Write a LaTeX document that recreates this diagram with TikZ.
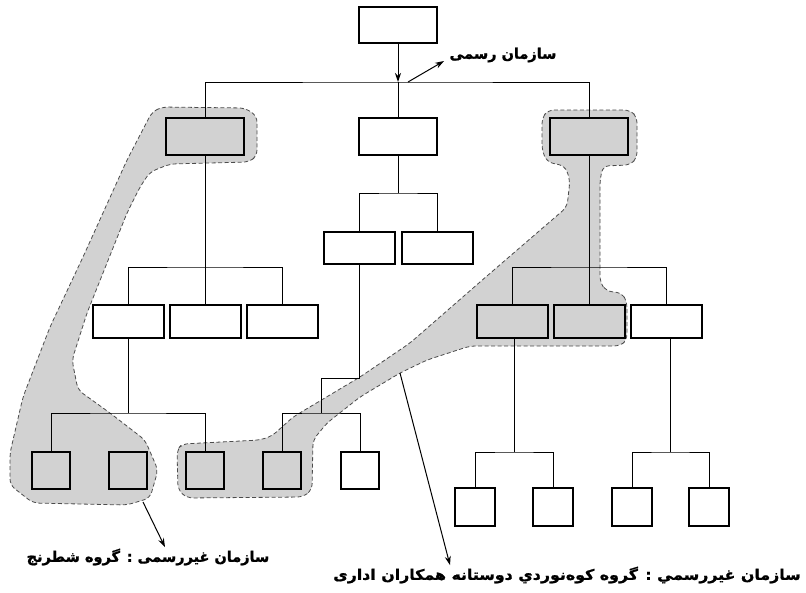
\documentclass[tikz,border=0pt]{standalone}
\usepackage{fontspec}
\newfontfamily\farsi[Script=Arabic,BoldFeatures={FakeBold=1.2}]{DejaVu Sans}
\TeXXeTstate=1
\usetikzlibrary{arrows.meta}
\begin{document}
\begin{tikzpicture}[x=1pt,y=-1pt,line width=1pt,>={Stealth[length=9pt,width=6pt]},
  post/.style={draw,line width=2pt,minimum width=78pt,minimum height=37pt,inner sep=0pt},
  subpost/.style={post,minimum width=71pt,minimum height=33pt},
  seat/.style={post,minimum width=38pt,minimum height=37pt},
  group/.style={fill=gray!35,draw=black!70,dash pattern=on 4pt off 2.5pt,line width=0.8pt,rounded corners=6pt},
  lbl/.style={font=\farsi\bfseries\fontsize{14.5}{17}\selectfont,inner sep=1pt}]
\useasboundingbox (0,0) rectangle (806,592);
% informal groups
\draw[group] (152,112)--(162,107)--(245,108)--(257,116)--(257,156)--(249,162)--(170,164)--(150,172)--(140,187)--(127,213)--(87,313)--(72,360)--(78,390)--(110,413)--(145,440)--(158,470)--(150,498)--(127,505)--(33,503)--(10,485)--(10,453)--(23,397)--(50,327)--(83,257)--(127,160)--cycle;
\draw[group] (542,118)--(548,110)--(630,110)--(637,117)--(637,158)--(630,165)--(603,166)--(600,180)--(600,282)--(606,291)--(622,293)--(627,302)--(627,340)--(620,346)--(470,346)--(427,360)--(400,373)--(360,397)--(327,423)--(313,440)--(312,490)--(303,497)--(187,498)--(178,490)--(177,450)--(182,444)--(260,440)--(272,436)--(293,417)--(360,377)--(410,343)--(480,282)--(567,207)--(570,180)--(565,166)--(547,162)--(542,150)--cycle;
% formal chart
\node[post,minimum height=36pt] (top) at (398,25) {};
\node[post] (chief1) at (205,136) {};
\node[post] (chief2) at (398,136) {};
\node[post] (chief3) at (589,136) {};
\node[subpost,minimum height=32pt] (m1) at (359,248) {};
\node[subpost,minimum height=32pt] (m2) at (437,248) {};
\node[subpost] (a1) at (128,321) {};
\node[subpost] (a2) at (205,321) {};
\node[subpost] (a3) at (282,321) {};
\node[subpost] (c1) at (512,321) {};
\node[subpost] (c2) at (589,321) {};
\node[subpost] (c3) at (666,321) {};
\node[seat] (s1) at (51,470) {};
\node[seat] (s2) at (128,470) {};
\node[seat] (s3) at (205,470) {};
\node[seat] (s4) at (282,470) {};
\node[seat] (s5) at (360,470) {};
\node[seat,minimum width=40pt,minimum height=38pt] (t1) at (475,507) {};
\node[seat,minimum width=40pt,minimum height=38pt] (t2) at (553,507) {};
\node[seat,minimum width=40pt,minimum height=38pt] (t3) at (632,507) {};
\node[seat,minimum width=40pt,minimum height=38pt] (t4) at (709,507) {};
\coordinate (j0) at (398,82);
\coordinate (j1) at (398,193);
\coordinate (j2) at (205,267);
\coordinate (j3) at (589,267);
\coordinate (j4) at (128,413);
\coordinate (j5) at (321,378);
\coordinate (j6) at (321,413);
\coordinate (j7) at (514,452);
\coordinate (j8) at (670,452);
\draw (chief1.north) |- (j0) -| (chief3.north);
\draw[->] (top.south) -- (j0);
\draw (j0) -- (chief2.north);
\draw (chief2.south) -- (j1);
\draw (m1.north) |- (j1) -| (m2.north);
\draw (chief1.south) -- (a2.north);
\draw (a1.north) |- (j2) -| (a3.north);
\draw (chief3.south) -- (c2.north);
\draw (c1.north) |- (j3) -| (c3.north);
\draw (a1.south) -- (j4);
\draw (s1.north) |- (j4) -| (s3.north);
\draw (m1.south) |- (j5) -- (j6);
\draw (s4.north) |- (j6) -| (s5.north);
\draw (c1.south -| j7) -- (j7);
\draw (t1.north) |- (j7) -| (t2.north);
\draw (c3.south -| j8) -- (j8);
\draw (t3.north) |- (j8) -| (t4.north);
% labels
\node[lbl] (formal) at (503,55) {\beginR سازمان رسمی\endR};
\node[lbl] (chess) at (148,557) {\beginR سازمان غیررسمی : گروه شطرنج\endR};
\node[lbl] (hike) at (567,575) {\addfontfeature{FakeStretch=1.09}\beginR سازمان غیررسمي : گروه کوه‌نوردي دوستانه همکاران اداری\endR};
\coordinate (p0) at (408,82);
\coordinate (chessedge) at (143,502);
\coordinate (hikeedge) at (400,373);
\draw[->] (p0) -- ([xshift=-4pt,yshift=-6pt]formal.west);
\draw[->] (chessedge) -- ([xshift=17pt]chess.north);
\draw[->] (hikeedge) -- ([xshift=-117pt]hike.north);
\end{tikzpicture}
\end{document}
